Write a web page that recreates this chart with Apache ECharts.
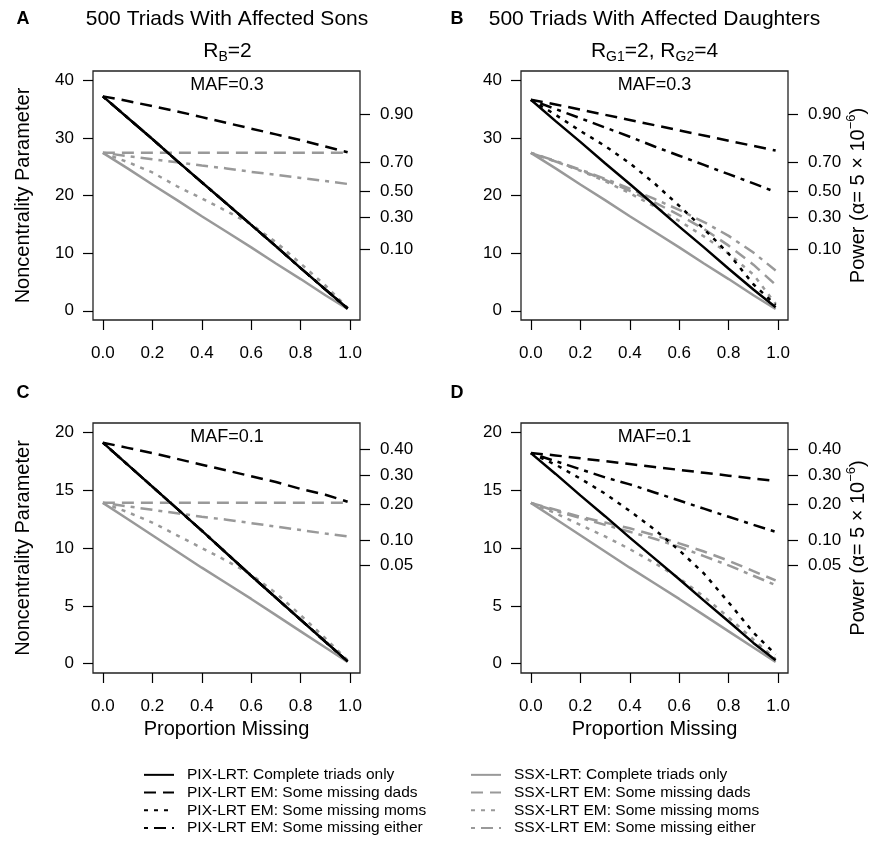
<!DOCTYPE html>
<html>
<head>
<meta charset="utf-8">
<title>Noncentrality parameter vs proportion missing</title>
<script src="https://cdn.jsdelivr.net/npm/echarts@6/dist/echarts.min.js"></script>
<style>
  html, body { margin: 0; padding: 0; background: #fff; }
  #chart { width: 877px; height: 841px; }
</style>
</head>
<body>
<div id="chart"></div>
<script>
// x values and tick labels
const propMissing = [0, 0.1, 0.2, 0.3, 0.4, 0.5, 0.6, 0.7, 0.8, 0.9, 0.99];
const xTicks = [0, 0.2, 0.4, 0.6, 0.8, 1.0];
const ncpTicksHigh = [0, 10, 20, 30, 40];
const ncpTicksLow = [0, 5, 10, 15, 20];

// right axis: power labels and the noncentrality value where each sits
const powerLabelsHigh = ['0.90', '0.70', '0.50', '0.30', '0.10'];
const powerNcpHigh = [34.1, 25.8, 20.8, 16.3, 10.7];
const powerLabelsLow = ['0.40', '0.30', '0.20', '0.10', '0.05'];
const powerNcpLow = [18.5, 16.3, 13.8, 10.7, 8.5];

const seriesNames = [
  'PIX-LRT: Complete triads only',
  'PIX-LRT EM: Some missing dads',
  'PIX-LRT EM: Some missing moms',
  'PIX-LRT EM: Some missing either',
  'SSX-LRT: Complete triads only',
  'SSX-LRT EM: Some missing dads',
  'SSX-LRT EM: Some missing moms',
  'SSX-LRT EM: Some missing either'
];

// A: affected sons, MAF=0.3
const aPixComplete = [37.2, 33.5, 29.8, 26.0, 22.3, 18.6, 14.9, 11.2, 7.4, 3.7, 0.4];
const aPixDads     = [37.2, 36.4, 35.5, 34.6, 33.6, 32.6, 31.6, 30.6, 29.6, 28.5, 27.5];
const aPixMoms     = [37.2, 33.5, 29.8, 26.0, 22.3, 18.6, 14.9, 11.2, 7.4, 3.7, 0.4];
const aPixEither   = [37.2, 33.5, 29.8, 26.0, 22.3, 18.6, 14.9, 11.2, 7.4, 3.7, 0.4];
const aSsxComplete = [27.4, 24.7, 21.9, 19.2, 16.4, 13.7, 11.0, 8.2, 5.5, 2.7, 0.3];
const aSsxDads     = [27.4, 27.4, 27.4, 27.4, 27.4, 27.4, 27.4, 27.4, 27.4, 27.4, 27.4];
const aSsxMoms     = [27.4, 25.8, 24.0, 21.6, 19.5, 17.3, 15.0, 11.9, 8.2, 4.4, 0.5];
const aSsxEither   = [27.4, 26.85, 26.3, 25.75, 25.2, 24.7, 24.1, 23.6, 23.05, 22.5, 22.0];

// B: affected daughters, MAF=0.3
const bPixComplete = [36.6, 32.9, 29.3, 25.6, 22.0, 18.3, 14.6, 11.0, 7.3, 3.7, 0.6];
const bPixDads     = [36.6, 35.8, 34.9, 34.0, 33.1, 32.2, 31.3, 30.4, 29.5, 28.6, 27.8];
const bPixMoms     = [36.6, 34.0, 31.2, 28.6, 25.6, 22.1, 18.2, 14.2, 9.9, 4.6, 1.0];
const bPixEither   = [36.6, 35.0, 33.4, 31.8, 30.2, 28.5, 26.9, 25.3, 23.7, 22.1, 20.6];
const bSsxComplete = [27.4, 24.7, 21.9, 19.2, 16.4, 13.7, 11.0, 8.2, 5.5, 2.7, 0.3];
const bSsxDads     = [27.4, 25.9, 24.4, 22.7, 20.8, 18.8, 16.6, 14.2, 11.3, 8.0, 4.5];
const bSsxMoms     = [27.4, 25.9, 24.3, 22.5, 20.4, 18.1, 15.6, 12.9, 9.9, 6.3, 1.2];
const bSsxEither   = [27.4, 26.0, 24.5, 22.9, 21.2, 19.4, 17.5, 15.4, 13.0, 10.1, 7.0];

// C: affected sons, MAF=0.1
const cPixComplete = [19.1, 17.2, 15.3, 13.4, 11.5, 9.55, 7.6, 5.7, 3.8, 1.9, 0.2];
const cPixDads     = [19.1, 18.65, 18.2, 17.7, 17.2, 16.7, 16.2, 15.7, 15.1, 14.6, 14.0];
const cPixMoms     = [19.1, 17.2, 15.3, 13.4, 11.5, 9.55, 7.6, 5.7, 3.8, 1.9, 0.2];
const cPixEither   = [19.1, 17.2, 15.3, 13.4, 11.5, 9.55, 7.6, 5.7, 3.8, 1.9, 0.2];
const cSsxComplete = [13.9, 12.5, 11.1, 9.7, 8.3, 6.95, 5.6, 4.2, 2.8, 1.4, 0.15];
const cSsxDads     = [13.9, 13.9, 13.9, 13.9, 13.9, 13.9, 13.9, 13.9, 13.9, 13.9, 13.9];
const cSsxMoms     = [13.9, 13.1, 12.2, 11.1, 10.0, 8.9, 7.7, 6.1, 4.2, 2.2, 0.3];
const cSsxEither   = [13.9, 13.6, 13.3, 13.0, 12.7, 12.45, 12.15, 11.85, 11.55, 11.25, 11.0];

// D: affected daughters, MAF=0.1
const dPixComplete = [18.2, 16.4, 14.55, 12.75, 10.9, 9.1, 7.3, 5.45, 3.65, 1.8, 0.3];
const dPixDads     = [18.2, 18.0, 17.75, 17.5, 17.25, 17.0, 16.75, 16.5, 16.25, 16.0, 15.8];
const dPixMoms     = [18.2, 17.2, 16.0, 14.7, 13.2, 11.6, 9.8, 7.8, 5.3, 2.7, 0.8];
const dPixEither   = [18.2, 17.5, 16.8, 16.1, 15.5, 14.8, 14.1, 13.4, 12.7, 12.0, 11.4];
const dSsxComplete = [13.9, 12.5, 11.1, 9.7, 8.3, 6.95, 5.6, 4.2, 2.8, 1.4, 0.15];
const dSsxDads     = [13.9, 13.3, 12.7, 12.2, 11.7, 11.1, 10.4, 9.7, 8.9, 8.0, 7.2];
const dSsxMoms     = [13.9, 13.0, 12.0, 11.0, 9.9, 8.7, 7.4, 5.8, 4.0, 2.1, 0.4];
const dSsxEither   = [13.9, 13.2, 12.6, 12.0, 11.4, 10.8, 10.1, 9.3, 8.5, 7.6, 6.8];

const FONT = 'Liberation Sans, Arial, Helvetica, sans-serif';
const BLACK = '#000';
const GRAY = '#999';
const lineColors = [BLACK, BLACK, BLACK, BLACK, GRAY, GRAY, GRAY, GRAY];
const dashTypes = ['solid', [12, 7], [4, 6], [4, 6, 12, 6]];

const panels = [
  { box: { left: 93, top: 71, width: 267, height: 249 }, high: true, leftName: true, rightName: false, bottomName: false,
    lines: [aPixComplete, aPixDads, aPixMoms, aPixEither, aSsxComplete, aSsxDads, aSsxMoms, aSsxEither] },
  { box: { left: 521, top: 71, width: 267, height: 249 }, high: true, leftName: false, rightName: true, bottomName: false,
    lines: [bPixComplete, bPixDads, bPixMoms, bPixEither, bSsxComplete, bSsxDads, bSsxMoms, bSsxEither] },
  { box: { left: 93, top: 423, width: 267, height: 250 }, high: false, leftName: true, rightName: false, bottomName: true,
    lines: [cPixComplete, cPixDads, cPixMoms, cPixEither, cSsxComplete, cSsxDads, cSsxMoms, cSsxEither] },
  { box: { left: 521, top: 423, width: 267, height: 250 }, high: false, leftName: false, rightName: true, bottomName: true,
    lines: [dPixComplete, dPixDads, dPixMoms, dPixEither, dSsxComplete, dSsxDads, dSsxMoms, dSsxEither] }
];

const grids = [], xAxes = [], yAxes = [], series = [];

panels.forEach((p, i) => {
  const yMin = p.high ? -1.6 : -0.8;
  const yMax = p.high ? 41.6 : 20.8;
  const leftTicks = p.high ? ncpTicksHigh : ncpTicksLow;
  const powNcp = p.high ? powerNcpHigh : powerNcpLow;
  const powLab = p.high ? powerLabelsHigh : powerLabelsLow;

  grids.push({
    left: p.box.left, top: p.box.top, width: p.box.width, height: p.box.height,
    show: true, borderColor: '#222', borderWidth: 1.3, backgroundColor: 'transparent',
    outerBoundsMode: 'none'
  });

  xAxes.push({
    type: 'value', gridIndex: i, position: 'bottom', min: -0.04, max: 1.04,
    axisLine: { show: false, onZero: false }, splitLine: { show: false },
    axisTick: { show: true, length: 10, customValues: xTicks, lineStyle: { color: BLACK, width: 1.2 } },
    axisLabel: { customValues: xTicks, margin: 25, fontSize: 17, fontFamily: FONT, color: BLACK,
      formatter: v => v.toFixed(1) },
    name: p.bottomName ? 'Proportion Missing' : '', nameLocation: 'middle', nameGap: 46,
    nameTextStyle: { fontSize: 20, fontFamily: FONT, color: BLACK }
  });

  yAxes.push({
    type: 'value', gridIndex: i, position: 'left', min: yMin, max: yMax,
    axisLine: { show: false, onZero: false }, splitLine: { show: false },
    axisTick: { show: true, length: 10, customValues: leftTicks, lineStyle: { color: BLACK, width: 1.2 } },
    axisLabel: { customValues: leftTicks, margin: 19, fontSize: 17, fontFamily: FONT, color: BLACK },
    name: p.leftName ? 'Noncentrality Parameter' : '', nameLocation: 'middle', nameRotate: 90, nameGap: 58,
    nameTextStyle: { fontSize: 20, lineHeight: 24, fontFamily: FONT, color: BLACK }
  });

  yAxes.push({
    type: 'value', gridIndex: i, position: 'right', min: yMin, max: yMax,
    axisLine: { show: false, onZero: false }, splitLine: { show: false },
    axisTick: { show: true, length: 10, customValues: powNcp, lineStyle: { color: BLACK, width: 1.2 } },
    axisLabel: {
      customValues: powNcp, margin: 20, fontSize: 17, fontFamily: FONT, color: BLACK,
      formatter: function (v) {
        let k = 0;
        powNcp.forEach((n, j) => { if (Math.abs(n - v) < Math.abs(powNcp[k] - v)) k = j; });
        return powLab[k];
      }
    },
    name: p.rightName ? '{n|Power (α= 5 × 10}{s|−6}{n|)}' : '', nameLocation: 'middle', nameRotate: 90, nameGap: 57,
    nameTextStyle: {
      fontFamily: FONT, color: BLACK,
      rich: {
        n: { fontSize: 20, lineHeight: 26, fontFamily: FONT, color: BLACK, verticalAlign: 'middle' },
        s: { fontSize: 13, lineHeight: 13, fontFamily: FONT, color: BLACK, verticalAlign: 'top' }
      }
    }
  });

  p.lines.forEach((vals, s) => {
    series.push({
      type: 'line', name: seriesNames[s], xAxisIndex: i, yAxisIndex: 2 * i,
      data: propMissing.map((x, k) => [x, vals[k]]),
      symbol: 'none', showSymbol: false, silent: true, animation: false,
      color: lineColors[s],
      itemStyle: { color: lineColors[s], opacity: 0 },
      lineStyle: { color: lineColors[s], width: 2.5, type: dashTypes[s % 4], cap: 'butt' },
      z: s < 4 ? 3 : 2
    });
  });
});

function txt(x, y, text, size, bold, rich) {
  const style = { text: text, x: 0, y: 0, fill: BLACK, fontSize: size, fontFamily: FONT,
    fontWeight: bold ? 'bold' : 'normal', align: 'center', verticalAlign: 'middle' };
  if (rich) style.rich = rich;
  return { type: 'text', x: x, y: y, silent: true, style: style };
}

const subRich = {
  n: { fontSize: 21, lineHeight: 27, fontFamily: FONT, fill: BLACK, verticalAlign: 'middle' },
  s: { fontSize: 14, lineHeight: 14, fontFamily: FONT, fill: BLACK, verticalAlign: 'bottom' }
};

const graphics = [
  txt(23, 19.5, 'A', 18, true),
  txt(457, 19.5, 'B', 18, true),
  txt(23, 393, 'C', 18, true),
  txt(457, 393, 'D', 18, true),
  txt(227, 19.5, '500 Triads With Affected Sons', 21),
  txt(654.5, 19.5, '500 Triads With Affected Daughters', 21),
  txt(227.5, 51, '{n|R}{s|B}{n|=2}', 21, false, subRich),
  txt(654.5, 51, '{n|R}{s|G1}{n|=2, R}{s|G2}{n|=4}', 21, false, subRich),
  txt(227, 85, 'MAF=0.3', 18),
  txt(654.5, 85, 'MAF=0.3', 18),
  txt(227, 437.5, 'MAF=0.1', 18),
  txt(654.5, 437.5, 'MAF=0.1', 18)
];

const legendBase = {
  orient: 'vertical', top: 766, itemWidth: 30, itemHeight: 14, itemGap: 0, padding: 0,
  selectedMode: false,
  itemStyle: { opacity: 0 },
  lineStyle: { width: 2 },
  textStyle: { fontSize: 15.5, lineHeight: 17.7, fontFamily: FONT, color: BLACK, padding: [0, 0, 0, 8] }
};

const chart = echarts.init(document.getElementById('chart'), null, { renderer: 'canvas' });
chart.setOption({
  backgroundColor: '#fff',
  animation: false,
  grid: grids,
  xAxis: xAxes,
  yAxis: yAxes,
  series: series,
  legend: [
    Object.assign({}, legendBase, { left: 143, data: seriesNames.slice(0, 4) }),
    Object.assign({}, legendBase, { left: 470, data: seriesNames.slice(4) })
  ],
  graphic: graphics
});
</script>
</body>
</html>
